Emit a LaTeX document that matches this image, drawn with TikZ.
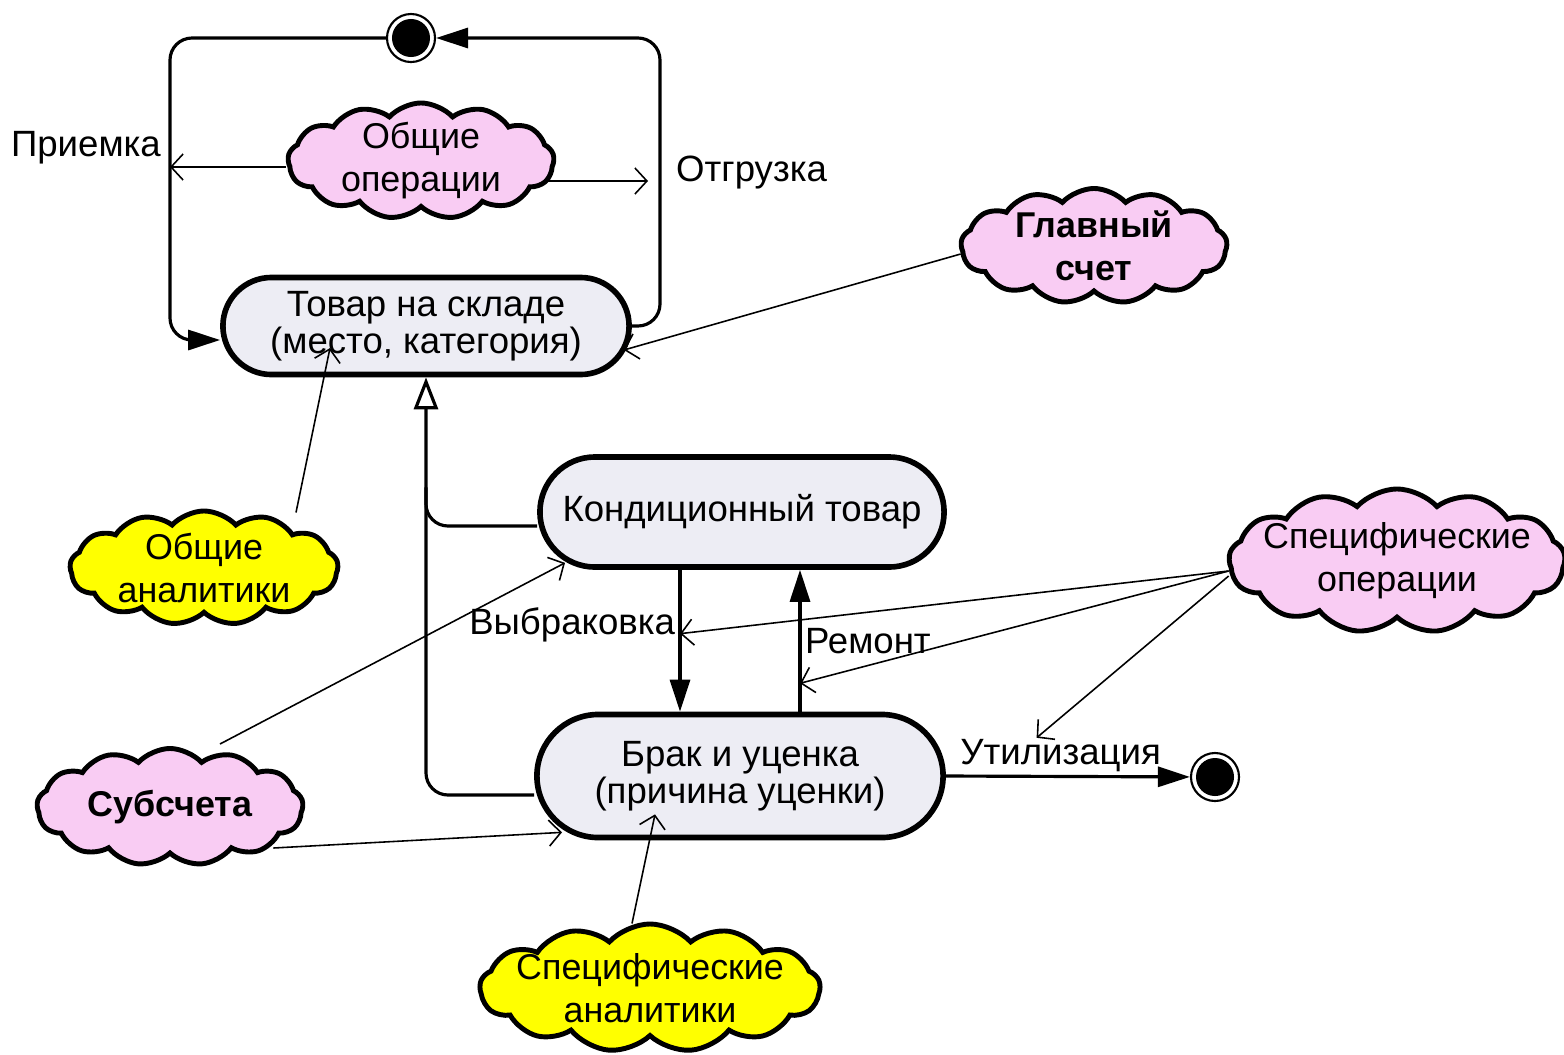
\documentclass[tikz,border=0pt]{standalone}
\usepackage{fontspec}
\setmainfont{Liberation Sans}
\usepackage{tikz}
\usetikzlibrary{arrows.meta,calc,shapes.misc,shapes.symbols}
\usepackage{xcolor}
\definecolor{statefill}{HTML}{EDEDF4}
\definecolor{notepink}{HTML}{F9CCF3}
\definecolor{noteyellow}{HTML}{FFFF00}
\tikzset{
  statebox/.style={
    rounded rectangle,
    draw=black,
    fill=statefill,
    line width=1.6pt,
    inner sep=2pt,
    align=center,
    font=\fontsize{10.4}{10.6}\selectfont
  },
  cloudbox/.style={
    cloud, cloud puffs=13, cloud puff arc=95, cloud ignores aspect,
    draw=black, line width=1.4pt, inner sep=0pt
  },
  pinknote/.style={cloudbox, fill=notepink},
  yellownote/.style={cloudbox, fill=noteyellow},
  notetext/.style={align=center, font=\fontsize{10.2}{12.2}\selectfont},
  notebold/.style={align=center, font=\fontsize{10.2}{12.2}\selectfont\bfseries},
  pseudo/.style={
    circle, draw=black, line width=0.6pt, fill=white,
    minimum size=4.8mm, inner sep=0pt,
    path picture={\fill[black] (path picture bounding box.center) circle (1.9mm);}
  },
  flow/.style={line width=0.9pt, rounded corners=2.2mm},
  trans/.style={flow, -{Triangle[length=3.2mm,width=2mm]}},
  gen/.style={flow, -{Triangle[open,length=3.2mm,width=2.4mm,line width=0.9pt]}},
  note/.style={-{Straight Barb[length=1.2mm,width=2.6mm]}, line width=0.45pt},
  lbl/.style={font=\fontsize{10.4}{12}\selectfont, inner sep=1pt}
}

\begin{document}
\begin{tikzpicture}[x=0.01cm, y=-0.01cm]
\useasboundingbox (0,0) rectangle (1564,1054);

\node[pseudo] (start) at (411,38) {};
\node[pseudo] (finish) at (1215,777) {};
\node[statebox, minimum width=4.2cm, minimum height=0.97cm] (tovar) at (426,326) {Товар на складе\\(место, категория)};
\node[statebox, minimum width=4.18cm, minimum height=1.1cm] (kond) at (742,512) {Кондиционный товар};
\node[statebox, minimum width=4.2cm, minimum height=1.23cm] (brak) at (740,776) {Брак и уценка\\(причина уценки)};

\node[pinknote, minimum width=2.66cm, minimum height=1.16cm, label={[notetext]center:{Общие\\операции}}] (opgen) at (421,161) {};
\node[pinknote, minimum width=2.66cm, minimum height=1.15cm, label={[notebold]center:{Главный\\счет}}] (glav) at (1094,246) {};
\node[yellownote, minimum width=2.68cm, minimum height=1.14cm, label={[notetext]center:{Общие\\аналитики}}] (obshan) at (204,568) {};
\node[pinknote, minimum width=3.36cm, minimum height=1.44cm, label={[notetext]center:{Специфические\\операции}}] (specops) at (1397,561) {};
\node[pinknote, minimum width=2.66cm, minimum height=1.17cm, label={[notebold]center:{Субсчета}}] (subsch) at (170,807) {};
\node[yellownote, minimum width=3.4cm, minimum height=1.28cm, label={[notetext]center:{Специфические\\аналитики}}] (specan) at (650,988) {};

\node[lbl, anchor=east] (priem) at (165,148) {Приемка};
\node[lbl, anchor=west] (otgr) at (672,173) {Отгрузка};

\coordinate (lcorner) at (170,38);
\coordinate (rcorner) at (660,38);
\draw[trans] (start.west) -- (lcorner) |- ($(tovar.west)+(0,14)$);
\draw[trans] (tovar.east) -| (rcorner) -- (start.east);

\draw[gen] ($(brak.west)+(0,19)$) -| (tovar.south);
\draw[flow] ($(kond.west)+(0,14)$) -| ($(tovar.south)+(0,110)$);

\draw[trans] ($(kond.south)+(-62,0)$) -- ($(brak.north)+(-60,0)$)
  node[lbl, pos=0.39, left] (vybr) {Выбраковка}
  coordinate[pos=0.45] (vybrpt);
\draw[trans] ($(brak.north)+(60,0)$) -- ($(kond.south)+(58,0)$)
  node[lbl, pos=0.5, right] (remont) {Ремонт}
  coordinate[pos=0.2] (remontpt);
\draw[trans] (brak.east) -- (finish) node[lbl, pos=0.47, above=0pt] (util) {Утилизация};

\coordinate (lin) at ($(opgen.west)+(0,6)$);
\coordinate (rin) at ($(opgen.east)+(-12,20)$);
\draw[note] (lin) -- (lin -| lcorner);
\draw[note] (rin) -- ($(rin -| rcorner)+(-12,0)$);
\draw[note] ($(glav.west)+(2,8)$) -- ($(tovar.east)+(-8,24)$);
\draw[note] ($(obshan.north)+(92,4)$) -- ($(tovar.center)+(-96,22)$);
\coordinate (sp) at ($(specops.west)+(2,10)$);
\draw[note] (sp) -- (vybrpt);
\draw[note] (sp) -- (remontpt);
\draw[note] ($(specops.west)+(2,15)$) -- ($(util.north)+(-24,4)$);
\draw[note] ($(subsch.north)+(50,-2)$) -- ($(kond.south)+(-177,-7)$);
\draw[note] ($(subsch.east)+(-32,41)$) -- ($(brak.south)+(-178,-8)$);
\draw[note] ($(specan.north)+(-18,2)$) -- ($(brak.south)+(-85,-26)$);
\end{tikzpicture}
\end{document}
